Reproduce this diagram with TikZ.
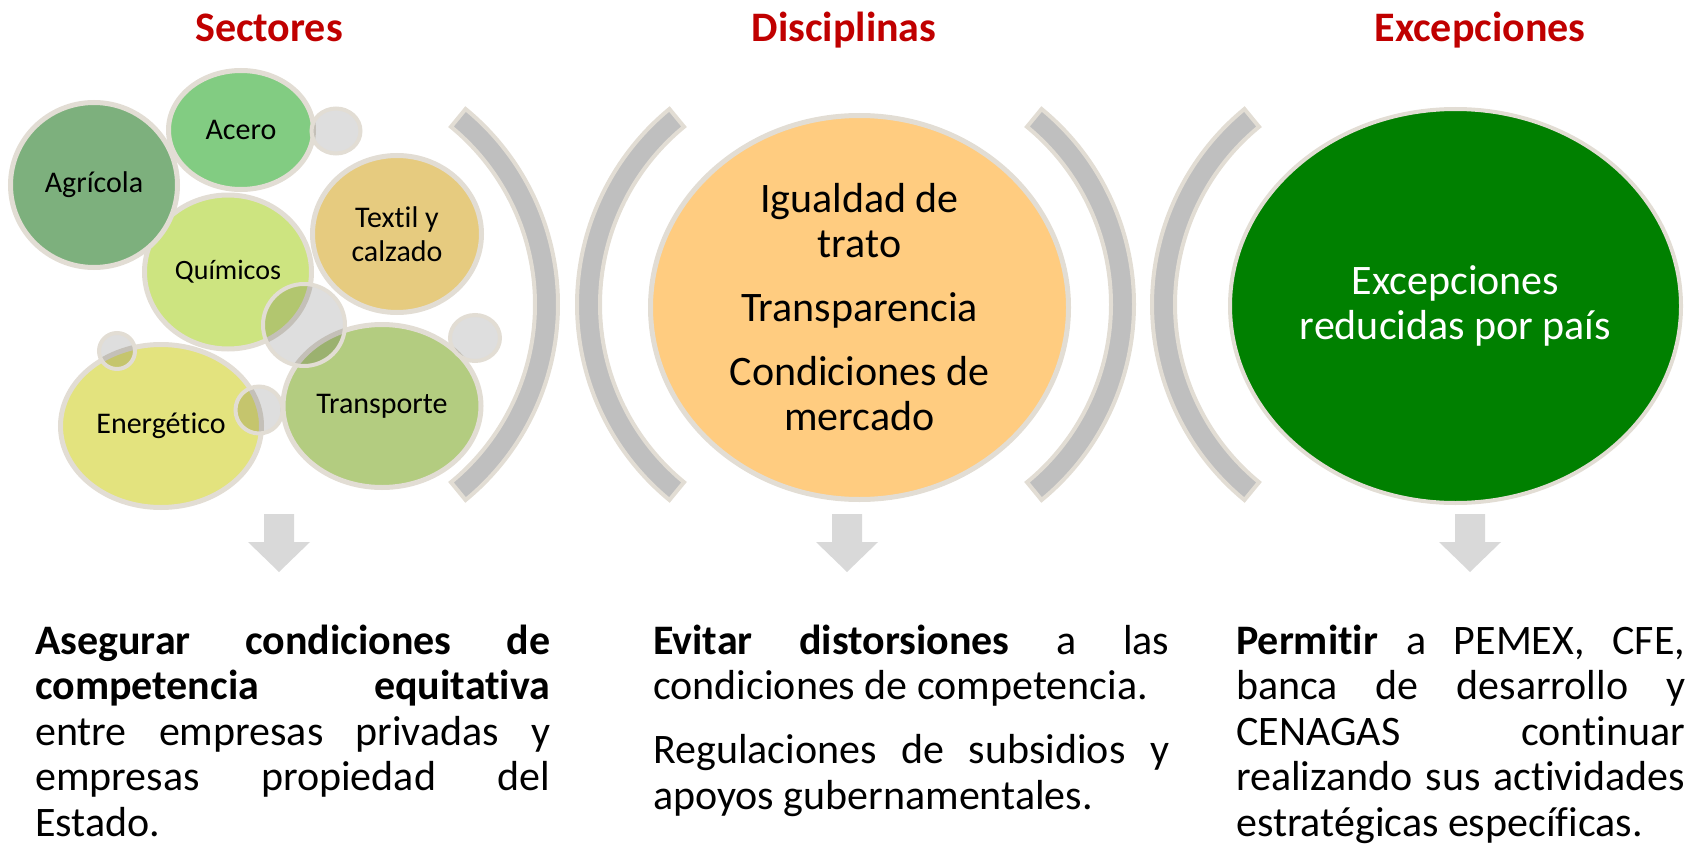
\documentclass[tikz,border=0pt]{standalone}
\usepackage{fontspec}
\setmainfont{Carlito}[Ligatures=NoCommon]
\usetikzlibrary{shapes.geometric}
\definecolor{rim}{HTML}{E2DDD4}
\definecolor{brkgray}{HTML}{BFBFBF}
\definecolor{dotgray}{HTML}{DEDEDE}
\definecolor{arrgray}{HTML}{D9D9D9}
\definecolor{titlered}{HTML}{C00000}
\definecolor{agri}{HTML}{7DB07D}
\definecolor{acer}{HTML}{82CC82}
\definecolor{text}{HTML}{E6CB7F}
\definecolor{quim}{HTML}{CDE480}
\definecolor{ener}{HTML}{E3E37E}
\definecolor{trans}{HTML}{B3CC80}
\definecolor{naranja}{HTML}{FFCC80}
\definecolor{verde}{HTML}{008000}
\tolerance=10000 \hbadness=10000
\hyphenpenalty=10000 \exhyphenpenalty=10000
\tikzset{
  bubble/.style={ellipse, draw=rim, line width=5pt, inner sep=0pt, align=center,
    font=\fontsize{30}{34}\selectfont},
  dot/.style={ellipse, draw=rim, line width=4pt, preaction={fill=dotgray, blend mode=multiply}},
  brk/.style={draw=rim, line width=4pt, fill=brkgray},
  head/.style={anchor=base, text=titlered, font=\bfseries\fontsize{42}{45}\selectfont},
  big/.style={font=\fontsize{42}{45}\selectfont},
  para/.style={anchor=base west, inner sep=0pt, align=justify, font=\fontsize{42}{45.5}\selectfont}
}
\begin{document}
\begin{tikzpicture}[x=1pt,y=-1pt]
\useasboundingbox (0,0) rectangle (1685,848);
\clip (0,0) rectangle (1685,848);
% titulos
\node[head] (sect) at (269,42) {Sectores};
\node[head] (disc) at (844,42) {Disciplinas};
\node[head] (exc) at (1480,42) {Excepciones};

% sectores
\node[bubble, fill=quim, minimum width=167pt, minimum height=154pt, font=\fontsize{28}{32}\selectfont] (quimicos) at (228,272) {Químicos};
\node[bubble, fill=agri, minimum width=167pt, minimum height=165pt] (agricola) at (94,185) {Agrícola};
\node[bubble, fill=acer, minimum width=145pt, minimum height=119pt] (acero) at (241,130) {Acero};
\node[bubble, fill=text, minimum width=169pt, minimum height=157pt] (textil) at (397,234) {Textil y\\calzado};
\node[bubble, fill=ener, minimum width=201pt, minimum height=163pt] (energetico) at (161,426) {Energético};
\node[bubble, fill=trans, minimum width=198pt, minimum height=163pt] (transporte) at (382,406) {Transporte};
\node[dot, minimum width=49pt, minimum height=45pt] (d1) at (336,131) {};
\node[dot, minimum width=82pt, minimum height=82pt] (d2) at (304,325) {};
\node[dot, minimum width=36pt, minimum height=36pt] (d3) at (117,351) {};
\node[dot, minimum width=47pt, minimum height=47pt] (d4) at (259,410) {};
\node[dot, minimum width=50pt, minimum height=46pt] (d5) at (475,338) {};

% parentesis
\foreach \cx/\a in {305/0, 830/180, 881/0, 1405/180}
  \draw[brk] ([shift={(\a-50.6:253)}]\cx,304.5) arc[start angle=\a-50.6, end angle=\a+50.6, radius=253]
    -- ([shift={(\a+50.6:230)}]\cx,304.5) arc[start angle=\a+50.6, end angle=\a-50.6, radius=230] -- cycle;

% disciplinas y excepciones
\node[bubble, big, fill=naranja, minimum width=418pt, minimum height=384pt] (igualdad) at (859.5,307.5)
  {Igualdad de\\trato\\[19pt]Transparencia\\[19pt]Condiciones de\\mercado};
\node[bubble, big, fill=verde, text=white, line width=4pt, minimum width=451pt, minimum height=394pt] (reducidas) at (1455.5,306)
  {Excepciones\\reducidas por país};

% flechas
\foreach \ax in {279,847,1470}
  \fill[arrgray] (\ax-15,514) -- (\ax+15,514) -- (\ax+15,542) -- (\ax+31,542) -- (\ax,572)
    -- (\ax-31,542) -- (\ax-15,542) -- cycle;

% textos
\node[para, text width=515pt] (asegurar) at (35,654)
  {\textbf{Asegurar condiciones de\linebreak competencia equitativa}\linebreak entre empresas privadas y\linebreak empresas propiedad del\linebreak Estado.};
\node[para, text width=516pt] (evitar) at (653,654)
  {\textbf{Evitar distorsiones} a las\linebreak condiciones de competencia.\par\vspace{18.5pt}Regulaciones de subsidios y\linebreak apoyos gubernamentales.};
\node[para, text width=449pt] (permitir) at (1236,654)
  {\textbf{Permitir} a PEMEX, CFE,\linebreak banca de desarrollo y\linebreak CENAGAS continuar\linebreak realizando sus actividades\linebreak estratégicas específicas.};
\end{tikzpicture}
\end{document}
